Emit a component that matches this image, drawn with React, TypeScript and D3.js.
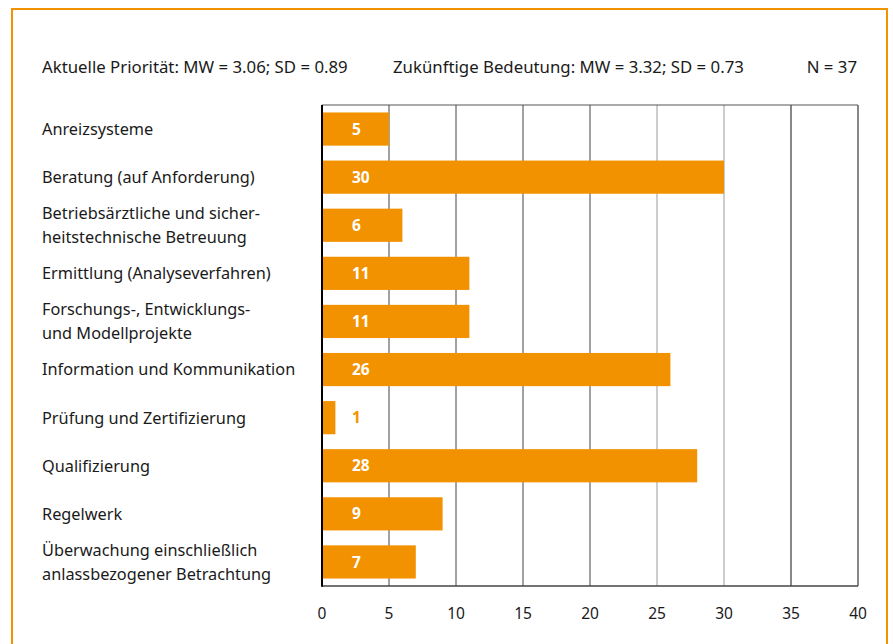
import React from "react";
import * as d3 from "d3";

const categories: string[][] = [
  ["Anreizsysteme"],
  ["Beratung (auf Anforderung)"],
  ["Betriebsärztliche und sicher-", "heitstechnische Betreuung"],
  ["Ermittlung (Analyseverfahren)"],
  ["Forschungs-, Entwicklungs-", "und Modellprojekte"],
  ["Information und Kommunikation"],
  ["Prüfung und Zertifizierung"],
  ["Qualifizierung"],
  ["Regelwerk"],
  ["Überwachung einschließlich", "anlassbezogener Betrachtung"],
];
const values: number[] = [5, 30, 6, 11, 11, 26, 1, 28, 9, 7];
const xTicks: number[] = [0, 5, 10, 15, 20, 25, 30, 35, 40];
const headerLeft = "Aktuelle Priorität: MW = 3.06; SD = 0.89";
const headerMid = "Zukünftige Bedeutung: MW = 3.32; SD = 0.73";
const headerRight = "N = 37";

const W = 893;
const H = 644;
const FONT = "'Noto Sans', 'Open Sans', sans-serif";
const ORANGE = "#f39200";

export default function App() {
  const left = 322;
  const right = 858;
  const top = 105;
  const bottom = 586;
  const x = d3.scaleLinear().domain([0, 40]).range([left, right]);
  const y = d3
    .scaleBand<number>()
    .domain(values.map((_, i) => i))
    .range([top, bottom])
    .paddingInner(0.31)
    .paddingOuter(0.155);

  const gridColor = (t: number) => (t === 25 || t === 30 ? "#9a9a9a" : t >= 35 ? "#111" : "#444");

  return (
    <svg
      width={W}
      height={H}
      style={{ position: "absolute", left: 0, top: 0, display: "block" }}
      fontFamily={FONT}
    >
      <rect x={0} y={0} width={W} height={H} fill="#fff" />
      <rect x={12} y={9} width={875} height={H + 20} fill="none" stroke={ORANGE} strokeWidth={2} />

      <g fontSize={16.8} fill="#1a1a1a">
        <text x={42} y={73}>{headerLeft}</text>
        <text x={393} y={73}>{headerMid}</text>
        <text x={857} y={73} textAnchor="end">{headerRight}</text>
      </g>

      {/* grid */}
      {xTicks.filter((t) => t > 0).map((t) => (
        <line key={t} x1={x(t)} x2={x(t)} y1={top} y2={bottom} stroke={gridColor(t)} strokeWidth={1} />
      ))}
      <line x1={left} x2={right} y1={top} y2={top} stroke="#555" strokeWidth={1} />

      {/* bars */}
      {values.map((v, i) => (
        <rect key={i} x={x(0)} y={y(i)!} width={x(v) - x(0)} height={y.bandwidth()} fill={ORANGE} />
      ))}

      {/* axes */}
      <line x1={left} x2={right} y1={bottom} y2={bottom} stroke="#444" strokeWidth={1.5} />
      <line x1={left} x2={left} y1={top} y2={bottom + 0.75} stroke="#000" strokeWidth={2} />

      {/* value labels */}
      <g fontSize={15.5} fontWeight="bold">
        {values.map((v, i) => (
          <text
            key={i}
            x={352}
            y={y(i)! + y.bandwidth() / 2}
            dy="0.36em"
            fill={x(v) - x(0) > 40 ? "#fff" : ORANGE}
          >
            {v}
          </text>
        ))}
      </g>

      {/* category labels */}
      <g fontSize={16.3} fill="#1a1a1a">
        {categories.map((lines, i) => {
          const cy = y(i)! + y.bandwidth() / 2;
          const lh = 24;
          const start = cy - ((lines.length - 1) * lh) / 2;
          return (
            <text key={i} x={42}>
              {lines.map((l, j) => (
                <tspan key={j} x={42} y={start + j * lh} dy="0.36em">{l}</tspan>
              ))}
            </text>
          );
        })}
      </g>

      {/* tick labels */}
      <g fontSize={15.5} fill="#1a1a1a" textAnchor="middle">
        {xTicks.map((t) => (
          <text key={t} x={x(t)} y={613} dy="0.36em">{t}</text>
        ))}
      </g>
    </svg>
  );
}
